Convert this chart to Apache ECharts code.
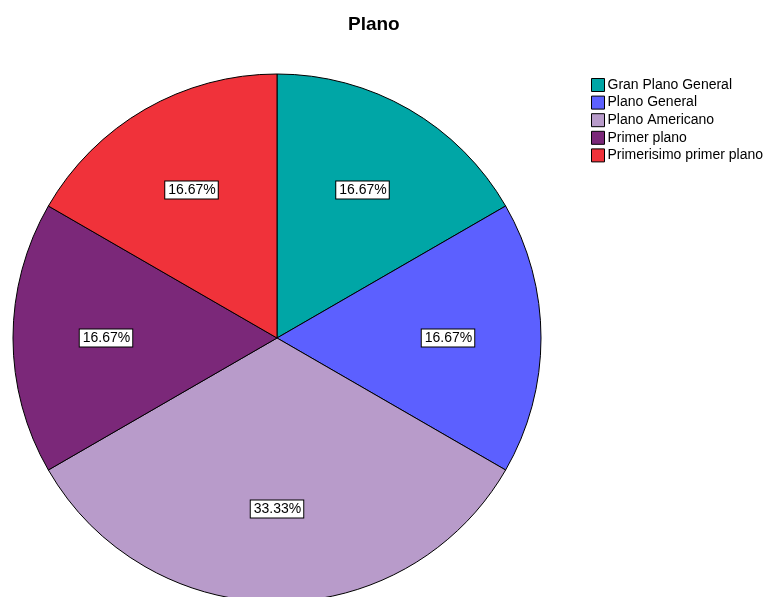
<!DOCTYPE html>
<html>
<head>
<meta charset="utf-8">
<script src="https://cdn.jsdelivr.net/npm/echarts@6/dist/echarts.min.js"></script>
<style>html,body{margin:0;padding:0;background:#fff}#c{width:765px;height:597px}</style>
</head>
<body>
<div id="c"></div>
<script>
const categories = ['Gran Plano General', 'Plano General', 'Plano Americano', 'Primer plano', 'Primerisimo primer plano'];
const values = [1, 1, 2, 1, 1];
const colors = ['#00A6A6', '#5C60FF', '#B89BCA', '#7B2879', '#F0323A'];

const total = values.reduce((a, b) => a + b, 0);
const data = categories.map((n, i) => ({ name: n, value: values[i], itemStyle: { color: colors[i] } }));
const ghost = categories.map((n, i) => ({ name: n, value: values[i] }));
const font = '"Liberation Sans", Arial, sans-serif';

const chart = echarts.init(document.getElementById('c'));
chart.setOption({
  animation: false,
  title: {
    text: 'Plano', left: 343, top: 10,
    textStyle: { fontSize: 19, fontWeight: 'bold', color: '#000', fontFamily: font }
  },
  legend: {
    orient: 'vertical', left: 591, top: 78, padding: 0,
    itemWidth: 13, itemHeight: 13, itemGap: 3.6,
    icon: 'rect',
    data: categories,
    itemStyle: { borderColor: '#000', borderWidth: 1 },
    textStyle: { fontSize: 14, lineHeight: 14, color: '#000', fontFamily: font, padding: [0, 0, 0, -2] }
  },
  series: [
    {
      type: 'pie', center: [277, 338], radius: 264, startAngle: 90, clockwise: true,
      data: data,
      itemStyle: { borderColor: '#000', borderWidth: 1 },
      label: { show: false }, labelLine: { show: false },
      emphasis: { disabled: true }
    },
    {
      type: 'pie', center: [277, 338], radius: 336, startAngle: 90, clockwise: true,
      data: ghost, silent: true,
      itemStyle: { color: 'rgba(0,0,0,0)', borderWidth: 0 },
      label: {
        show: true, position: 'inside',
        formatter: p => (p.value / total * 100).toFixed(2) + '%',
        fontSize: 14, color: '#000', fontFamily: font,
        backgroundColor: '#fff', borderColor: '#000', borderWidth: 1,
        padding: [2, 2, 1, 3]
      },
      labelLine: { show: false },
      emphasis: { disabled: true }
    }
  ]
});
</script>
</body>
</html>
